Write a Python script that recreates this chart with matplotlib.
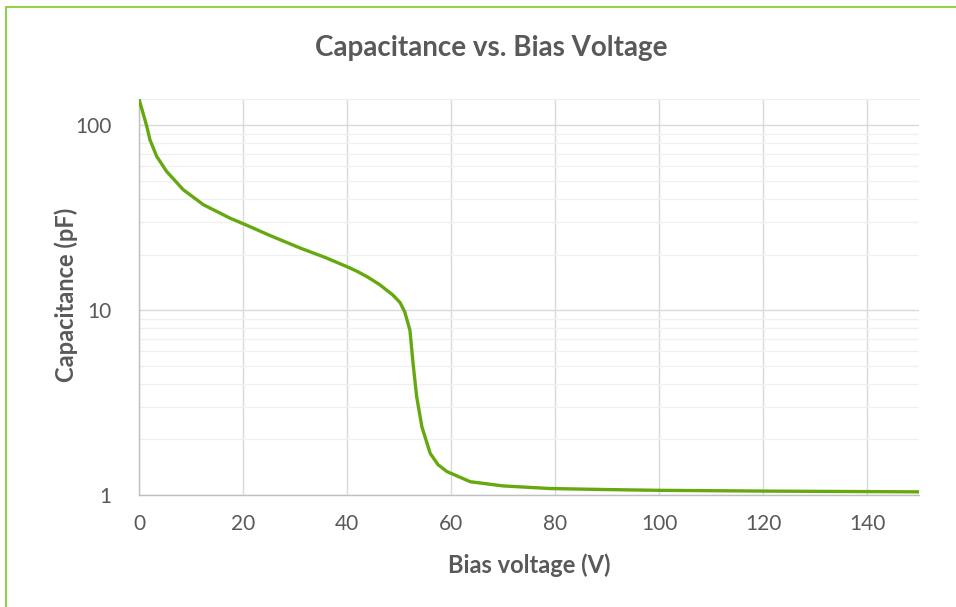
import matplotlib.pyplot as plt
from matplotlib.patches import Rectangle
from matplotlib.ticker import FixedLocator, NullFormatter

voltage = [0, 1.5, 2.1, 3.4, 5.3, 8.5, 12.4, 17.5, 21, 25, 31, 36, 40, 42, 44,
           46.2, 48.8, 50.2, 51.1, 52.1, 52.7, 53.4, 54.4, 56, 57.5, 59.2, 63.7,
           70, 79, 90, 100, 120, 150]
capacitance = [139, 98.8, 83.7, 68, 56.4, 44.9, 37.2, 31.5, 28.6, 25.5, 21.7,
               19.2, 17.2, 16.2, 15.1, 13.8, 12.1, 11.0, 9.8, 7.8, 5.16, 3.4,
               2.34, 1.68, 1.46, 1.34, 1.18, 1.12, 1.084, 1.07, 1.06, 1.05, 1.04]

x_ticks = [0, 20, 40, 60, 80, 100, 120, 140]
y_ticks = [1, 10, 100]
y_tick_labels = ["1", "10", "100"]

plt.rcParams['font.family'] = ['Lato', 'DejaVu Sans']

W, H = 956, 607
fig = plt.figure(figsize=(W / 100, H / 100), dpi=100)
ax = fig.add_axes([139/W, 1 - 495/H, (919 - 139)/W, (495 - 99)/H])

# light green chart border (right and bottom edges fall outside the image)
fig.patches.append(Rectangle((6/W, -0.1), 1.2, 1.1 - 7/H, transform=fig.transFigure,
                             fill=False, edgecolor='#92d050', linewidth=1.5))

ax.plot(voltage, capacitance, color='#66a80f', linewidth=2.4, solid_capstyle='butt',
        solid_joinstyle='round', zorder=3)

ax.set_yscale('log')
ax.set_xlim(0, 150)
ax.set_ylim(1, 139)

ax.xaxis.set_major_locator(FixedLocator(x_ticks))
ax.set_xticklabels([str(t) for t in x_ticks])
ax.yaxis.set_major_locator(FixedLocator(y_ticks))
ax.set_yticklabels(y_tick_labels)
minor = [m * 10**d for d in range(0, 3) for m in range(2, 10) if m * 10**d < 139]
ax.yaxis.set_minor_locator(FixedLocator(minor))
ax.yaxis.set_minor_formatter(NullFormatter())

ax.grid(True, which='major', axis='both', color='#d9d9d9', linewidth=1.0, zorder=0)
ax.grid(True, which='minor', axis='y', color='#f0f0f0', linewidth=1.0, zorder=0)
ax.set_axisbelow(True)

ax.tick_params(which='both', length=0, labelsize=15, labelcolor='#595959')
ax.tick_params(axis='x', pad=14)
ax.tick_params(axis='y', pad=20)

ax.spines['right'].set_visible(False)
ax.spines['top'].set_color('#eeeeee')
for side in ('left', 'bottom'):
    ax.spines[side].set_color('#bfbfbf')
    ax.spines[side].set_linewidth(1.0)

label_style = dict(fontsize=17, fontweight='bold', color='#595959',
                   ha='center', va='center')
fig.text(529/W, 1 - 565/H, "Bias voltage (V)", **label_style)
fig.text(66/W, 1 - 295/H, "Capacitance (pF)", rotation=90, **label_style)
fig.text(491/W, 1 - 48/H, "Capacitance vs. Bias Voltage", fontsize=20,
         fontweight='bold', color='#595959', ha='center', va='center')

fig.savefig("out.png", dpi=100)
